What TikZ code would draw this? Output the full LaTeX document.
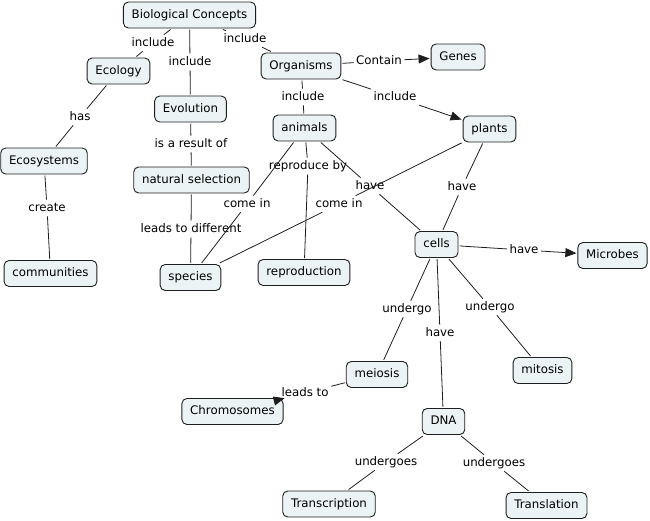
\documentclass[tikz,border=0pt]{standalone}
\usepackage{fontspec}
\setmainfont{DejaVu Sans}
\usetikzlibrary{arrows.meta}
\definecolor{boxfill}{RGB}{236,243,245}
\definecolor{ink}{RGB}{30,30,30}
\begin{document}
\begin{tikzpicture}[x=1pt,y=-1pt,
  concept/.style={draw=ink, line width=0.9pt, fill=boxfill, rounded corners=5pt,
    minimum height=26pt, inner xsep=8.3pt, font=\fontsize{11.8}{13}\selectfont,
    text height=8.7pt, text depth=2.5pt, outer sep=1.5pt},
  lnk/.style={inner sep=2.5pt, font=\fontsize{11.8}{13}\selectfont,
    text height=8.7pt, text depth=2.5pt},
  conn/.style={draw=ink, line width=0.8pt},
  arr/.style={conn, -{Triangle[length=11pt,width=9pt]}}]
\useasboundingbox (0,0) rectangle (650,520);
% concepts
\node[concept] (bc) at (189.5,15) {Biological Concepts};
\node[concept] (eco) at (118.5,71) {Ecology};
\node[concept] (org) at (301,66) {Organisms};
\node[concept] (genes) at (458,57) {Genes};
\node[concept] (evo) at (190.5,109) {Evolution};
\node[concept] (ani) at (304.5,128) {animals};
\node[concept] (pla) at (489.5,129) {plants};
\node[concept] (ecs) at (44,161) {Ecosystems};
\node[concept] (ns) at (191.5,180) {natural selection};
\node[concept] (com) at (50.5,273.5) {communities};
\node[concept] (spe) at (190.5,277.5) {species};
\node[concept] (rep) at (304,272.5) {reproduction};
\node[concept] (cel) at (436.5,244.5) {cells};
\node[concept] (mic) at (612.5,255.5) {Microbes};
\node[concept] (mei) at (377,374.5) {meiosis};
\node[concept] (mit) at (542.5,370.5) {mitosis};
\node[concept] (chr) at (232.5,411.5) {Chromosomes};
\node[concept] (dna) at (443.5,421.5) {DNA};
\node[concept] (tsc) at (329,504) {Transcription};
\node[concept] (tsl) at (546.5,505.5) {Translation};
% linking phrases
\node[lnk] (l1) at (153,43) {include};
\node[lnk] (l2) at (190,62) {include};
\node[lnk] (l3) at (245,39) {include};
\node[lnk] (l4) at (80,117) {has};
\node[lnk] (l5) at (191,144) {is a result of};
\node[lnk] (l6) at (303,97) {include};
\node[lnk] (l7) at (379,61) {Contain};
\node[lnk] (l8) at (395,97) {include};
\node[lnk] (l9) at (47,208) {create};
\node[lnk] (l10) at (191,229) {leads to different};
\node[lnk] (l11) at (247,204) {come in};
\node[lnk] (l12) at (339,204) {come in};
\node[lnk] (l13) at (308,166) {reproduce by};
\node[lnk] (l14) at (370,186) {have};
\node[lnk] (l15) at (462,187) {have};
\node[lnk] (l16) at (524,250) {have};
\node[lnk] (l17) at (407,309) {undergo};
\node[lnk] (l18) at (440,333) {have};
\node[lnk] (l19) at (490,307) {undergo};
\node[lnk] (l20) at (305,393) {leads to};
\node[lnk] (l21) at (386,462) {undergoes};
\node[lnk] (l22) at (494,463) {undergoes};
% connectors
\draw[conn] (bc) -- (l1); \draw[conn] (l1) -- (eco);
\draw[conn] (bc) -- (l2); \draw[conn] (l2) -- (evo);
\draw[conn] (bc) -- (l3); \draw[conn] (l3) -- (org);
\draw[conn] (eco) -- (l4); \draw[conn] (l4) -- (ecs);
\draw[conn] (evo) -- (l5); \draw[conn] (l5) -- (ns);
\draw[conn] (org) -- (l6); \draw[conn] (l6) -- (ani);
\draw[conn] (org) -- (l7); \draw[arr] (l7) -- (genes);
\draw[conn] (org) -- (l8); \draw[arr] (l8) -- (pla);
\draw[conn] (ecs) -- (l9); \draw[conn] (l9) -- (com);
\draw[conn] (ns) -- (l10); \draw[conn] (l10) -- (spe);
\draw[conn] (ani) -- (l11); \draw[conn] (l11) -- (spe);
\draw[conn] (pla) -- (l12); \draw[conn] (l12) -- (spe);
\draw[conn] (ani) -- (l13); \draw[conn] (l13) -- (rep);
\draw[conn] (ani) -- (l14); \draw[conn] (l14) -- (cel);
\draw[conn] (pla) -- (l15); \draw[conn] (l15) -- (cel);
\draw[conn] (cel) -- (l16); \draw[arr] (l16) -- (mic);
\draw[conn] (cel) -- (l17); \draw[conn] (l17) -- (mei);
\draw[conn] (cel) -- (l18); \draw[conn] (l18) -- (dna);
\draw[conn] (cel) -- (l19); \draw[conn] (l19) -- (mit);
\draw[conn] (mei) -- (l20); \draw[arr] (l20) -- (chr);
\draw[conn] (dna) -- (l21); \draw[conn] (l21) -- (tsc);
\draw[conn] (dna) -- (l22); \draw[conn] (l22) -- (tsl);
\end{tikzpicture}
\end{document}
